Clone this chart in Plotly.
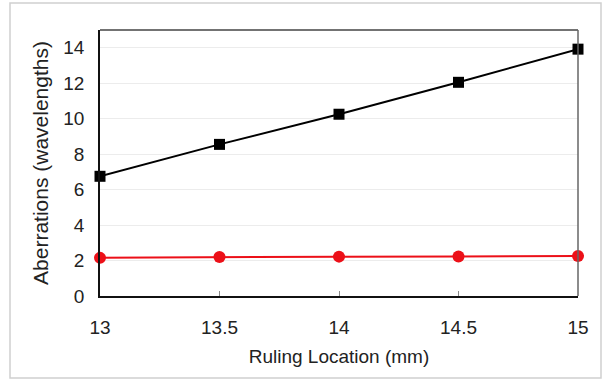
import plotly.graph_objects as go

ruling_location = [13, 13.5, 14, 14.5, 15]
series_black = [6.75, 8.55, 10.25, 12.05, 13.92]
series_red = [2.15, 2.2, 2.22, 2.23, 2.25]
x_ticks = [13, 13.5, 14, 14.5, 15]
x_tick_labels = ["13", "13.5", "14", "14.5", "15"]
y_ticks = [0, 2, 4, 6, 8, 10, 12, 14]

fig = go.Figure()
fig.add_trace(go.Scatter(
    x=ruling_location, y=series_black, mode="lines+markers",
    line=dict(color="black", width=2),
    marker=dict(symbol="square", size=11, color="black"),
    cliponaxis=False, showlegend=False))
fig.add_trace(go.Scatter(
    x=ruling_location, y=series_red, mode="lines+markers",
    line=dict(color="#ec1018", width=2),
    marker=dict(symbol="circle", size=12, color="#ec1018"),
    cliponaxis=False, showlegend=False))

font = "Liberation Sans, Arial, sans-serif"
fig.update_layout(
    width=605, height=381,
    margin=dict(l=100, r=27, t=30, b=85),
    paper_bgcolor="white", plot_bgcolor="white",
    font=dict(family=font, color="#222", size=19),
    xaxis=dict(
        range=[13, 15], tickvals=x_ticks, ticktext=x_tick_labels,
        showgrid=False, zeroline=False,
        showline=True, linecolor="#111", linewidth=1.5,
        ticks="inside", ticklen=5, tickcolor="#888",
        tickfont=dict(size=19), ticklabelstandoff=13,
        title=dict(text="Ruling Location (mm)", font=dict(size=19), standoff=13),
    ),
    yaxis=dict(
        range=[0, 15], tickvals=y_ticks,
        showgrid=True, gridcolor="#ececec", gridwidth=1, zeroline=False,
        showline=True, linecolor="#111", linewidth=1.5,
        ticks="", tickfont=dict(size=19), ticklabelstandoff=10,
        title=dict(text="Aberrations (wavelengths)", font=dict(size=21), standoff=9),
    ),
    shapes=[
        dict(type="line", xref="paper", yref="paper", x0=0, x1=1, y0=1, y1=1,
             line=dict(color="#444", width=1.5)),
        dict(type="line", xref="paper", yref="paper", x0=1, x1=1, y0=0, y1=1,
             line=dict(color="#666", width=1.5)),
        dict(type="rect", xref="paper", yref="paper",
             x0=(10 - 100) / 478, x1=(601 - 100) / 478,
             y0=(296 - 378) / 266, y1=(296 - 3) / 266,
             line=dict(color="#d0d0d0", width=1.5), layer="below"),
    ],
)

fig.write_html("out.html", config={"displayModeBar": False},
               post_script="document.body.style.margin='0';document.body.style.overflow='hidden';")
